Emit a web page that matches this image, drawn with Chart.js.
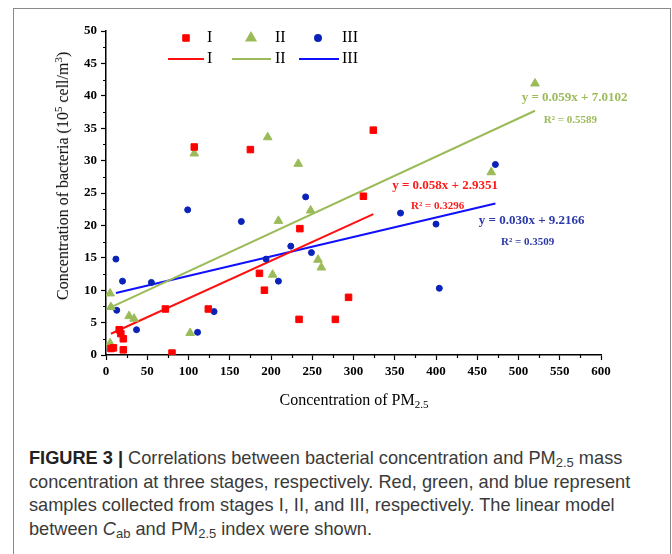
<!DOCTYPE html>
<html>
<head>
<meta charset="utf-8">
<script src="https://cdn.jsdelivr.net/npm/chart.js@4.4.1/dist/chart.umd.min.js"></script>
<style>
  body { margin:0; background:#fff; width:672px; height:554px; overflow:hidden; position:relative; }
  #frame { position:absolute; left:13px; top:8px; width:658px; height:600px; border:1px solid #8a8a8a; box-sizing:border-box; }
  #wrap { position:absolute; left:0; top:0; width:672px; height:420px; }
  .axis-title { position:absolute; font-family:"Liberation Serif","Times New Roman",serif; font-size:16px; color:#000; white-space:nowrap; }
  #xTitle { left:354px; top:400px; transform:translate(-50%,-50%); }
  #yTitle { left:63px; top:176px; transform:translate(-50%,-50%) rotate(-90deg); }
  .axis-title sub, .axis-title sup { font-size:11px; line-height:0; }
  .axis-title sub { vertical-align:-0.3em; }
  .axis-title sup { vertical-align:0.55em; }
  #caption { position:absolute; left:29px; top:447px; font-family:"Liberation Sans",Arial,sans-serif; font-size:18.2px; line-height:23.7px; color:#3a3a3a; white-space:nowrap; }
  #caption b { color:#222; }
  #caption sub { font-size:13px; line-height:0; vertical-align:-0.25em; }
</style>
</head>
<body>
<div id="frame"></div>
<div id="wrap"><canvas id="chart" width="672" height="420"></canvas></div>
<div class="axis-title" id="xTitle">Concentration of PM<sub>2.5</sub></div>
<div class="axis-title" id="yTitle">Concentration of bacteria (10<sup>5</sup> cell/m<sup>3</sup>)</div>
<div id="caption"><b>FIGURE 3 |</b> Correlations between bacterial concentration and PM<sub>2.5</sub> mass<br>concentration at three stages, respectively. Red, green, and blue represent<br>samples collected from stages I, II, and III, respectively. The linear model<br>between <i>C</i><sub>ab</sub> and PM<sub>2.5</sub> index were shown.</div>
<script>
// Stage names
const stages = ['I', 'II', 'III'];

// Stage I (red): PM2.5 vs bacteria
const pmI   = [6, 9, 16, 18, 21, 21, 72, 80, 107, 124, 175, 186, 192, 234, 235, 278, 294, 312, 324];
const bactI = [1.0, 1.1, 3.9, 3.3, 2.5, 0.8, 7.1, 0.3, 32.1, 7.1, 31.7, 12.6, 10.0, 5.5, 19.5, 5.5, 8.9, 24.5, 34.7];

// Stage II (green)
const pmII   = [5, 5, 6, 28, 34, 102, 107, 196, 202, 209, 233, 248, 257, 261, 467, 520];
const bactII = [1.8, 9.5, 7.4, 6.0, 5.6, 3.4, 31.1, 33.6, 12.4, 20.7, 29.5, 22.3, 14.7, 13.5, 28.2, 41.9];

// Stage III (blue)
const pmIII   = [12, 13, 20, 37, 55, 99, 111, 131, 164, 194, 209, 224, 242, 249, 357, 400, 404, 472];
const bactIII = [14.8, 6.9, 11.4, 3.9, 11.2, 22.4, 3.5, 6.7, 20.6, 14.8, 11.4, 16.8, 24.4, 15.8, 21.9, 20.2, 10.3, 29.4];

// Linear models printed on the chart
const slopes = [0.058, 0.059, 0.030];
const intercepts = [2.9351, 7.0102, 9.2166];
const rSquared = ['0.3296', '0.5589', '0.3509'];

// Axis ticks
const xTicks = [0, 50, 100, 150, 200, 250, 300, 350, 400, 450, 500, 550, 600];
const yTicks = [0, 5, 10, 15, 20, 25, 30, 35, 40, 45, 50];

const xs = [pmI, pmII, pmIII];
const ys = [bactI, bactII, bactIII];
const pointColors = ['#ff0000', '#9bbb59', '#0a22b8'];
const lineColors = ['#ff1010', '#9bbb59', '#1010ff'];
const textColors = ['#ff1a1a', '#9bbb59', '#2b3aa8'];
const shapes = ['rect', 'triangle', 'circle'];
const radii = [4.6, 5, 3];

const serif = '"Liberation Serif", "Times New Roman", serif';

const datasets = [];
stages.forEach((name, i) => {
    datasets.push({
        label: name,
        data: xs[i].map((x, k) => ({ x: x, y: ys[i][k] })),
        pointStyle: shapes[i],
        pointRadius: radii[i],
        pointBorderWidth: 1,
        backgroundColor: pointColors[i],
        borderColor: pointColors[i],
        order: 0
    });
});
stages.forEach((name, i) => {
    const x0 = Math.min(...xs[i]);
    const x1 = Math.max(...xs[i]);
    datasets.push({
        label: name + ' fit',
        data: [
            { x: x0, y: slopes[i] * x0 + intercepts[i] },
            { x: x1, y: slopes[i] * x1 + intercepts[i] }
        ],
        showLine: true,
        pointRadius: 0,
        borderColor: lineColors[i],
        borderWidth: 2,
        order: 1
    });
});

// minor ticks halfway between the labelled ones
const minorTicks = {
    id: 'minorTicks',
    afterDraw(chart) {
        const { ctx, chartArea, scales } = chart;
        ctx.save();
        ctx.strokeStyle = '#000';
        ctx.lineWidth = 1.2;
        ctx.beginPath();
        for (let i = 0; i < xTicks.length - 1; i++) {
            const px = Math.round(scales.x.getPixelForValue((xTicks[i] + xTicks[i + 1]) / 2)) + 0.5;
            ctx.moveTo(px, chartArea.bottom);
            ctx.lineTo(px, chartArea.bottom + 3);
        }
        for (let i = 0; i < yTicks.length - 1; i++) {
            const py = Math.round(scales.y.getPixelForValue((yTicks[i] + yTicks[i + 1]) / 2)) + 0.5;
            ctx.moveTo(chartArea.left, py);
            ctx.lineTo(chartArea.left - 3, py);
        }
        ctx.stroke();
        ctx.restore();
    }
};

// two-row legend (markers, then fit lines) and the fit equations
const legendX = [186, 251, 318];
const legendLine = [[168, 204], [232, 271], [299, 339]];
const legendText = [207, 275, 342];
const eqPos = [[411, 26.2], [568, 39.7], [516, 20.7]];
const r2Pos = [[402, 23.0], [563, 36.3], [511, 17.4]];

const extras = {
    id: 'extras',
    afterDraw(chart) {
        const { ctx, scales } = chart;
        ctx.save();
        ctx.textBaseline = 'middle';
        stages.forEach((name, i) => {
            ctx.fillStyle = pointColors[i];
            ctx.strokeStyle = pointColors[i];
            Chart.helpers.drawPoint(ctx, { pointStyle: shapes[i], radius: radii[i], borderWidth: 1, rotation: 0 }, legendX[i], 38);
            ctx.strokeStyle = lineColors[i];
            ctx.lineWidth = 2;
            ctx.beginPath();
            ctx.moveTo(legendLine[i][0], 59);
            ctx.lineTo(legendLine[i][1], 59);
            ctx.stroke();
            ctx.fillStyle = '#000';
            ctx.textAlign = 'left';
            ctx.font = '16px ' + serif;
            ctx.fillText(name, legendText[i], 38);
            ctx.fillText(name, legendText[i], 59);

            ctx.fillStyle = textColors[i];
            ctx.textAlign = 'center';
            const sign = intercepts[i] >= 0 ? '+' : '-';
            ctx.font = 'bold 13px ' + serif;
            ctx.fillText('y = ' + slopes[i].toFixed(3) + 'x ' + sign + ' ' + Math.abs(intercepts[i]).toFixed(4),
                scales.x.getPixelForValue(eqPos[i][0]), scales.y.getPixelForValue(eqPos[i][1]));
            ctx.font = 'bold 11px ' + serif;
            ctx.fillText('R\u00b2 = ' + rSquared[i],
                scales.x.getPixelForValue(r2Pos[i][0]), scales.y.getPixelForValue(r2Pos[i][1]));
        });
        ctx.restore();
    }
};

const tickFont = { family: serif, size: 13, weight: 'bold' };

new Chart(document.getElementById('chart').getContext('2d'), {
    type: 'scatter',
    data: { datasets: datasets },
    options: {
        responsive: false,
        animation: false,
        devicePixelRatio: 1,
        layout: { padding: { top: 31, right: 71, left: 0, bottom: 0 } },
        plugins: { legend: { display: false }, tooltip: { enabled: false } },
        scales: {
            x: {
                type: 'linear',
                min: 0,
                max: 600,
                afterFit: s => { s.height = 65; },
                afterBuildTicks: s => { s.ticks = xTicks.map(v => ({ value: v })); },
                border: { color: '#000', width: 1.5 },
                grid: { drawOnChartArea: false, tickLength: 5, tickColor: '#000', tickWidth: 1.2 },
                ticks: { autoSkip: false, maxRotation: 0, padding: 4, color: '#000', font: tickFont }
            },
            y: {
                type: 'linear',
                min: 0,
                max: 50,
                afterFit: s => { s.width = 106; },
                afterBuildTicks: s => { s.ticks = yTicks.map(v => ({ value: v })); },
                border: { color: '#000', width: 1.5 },
                grid: { drawOnChartArea: false, tickLength: 5, tickColor: '#000', tickWidth: 1.2 },
                ticks: { autoSkip: false, padding: 4, color: '#000', font: tickFont }
            }
        }
    },
    plugins: [minorTicks, extras]
});
</script>
</body>
</html>
